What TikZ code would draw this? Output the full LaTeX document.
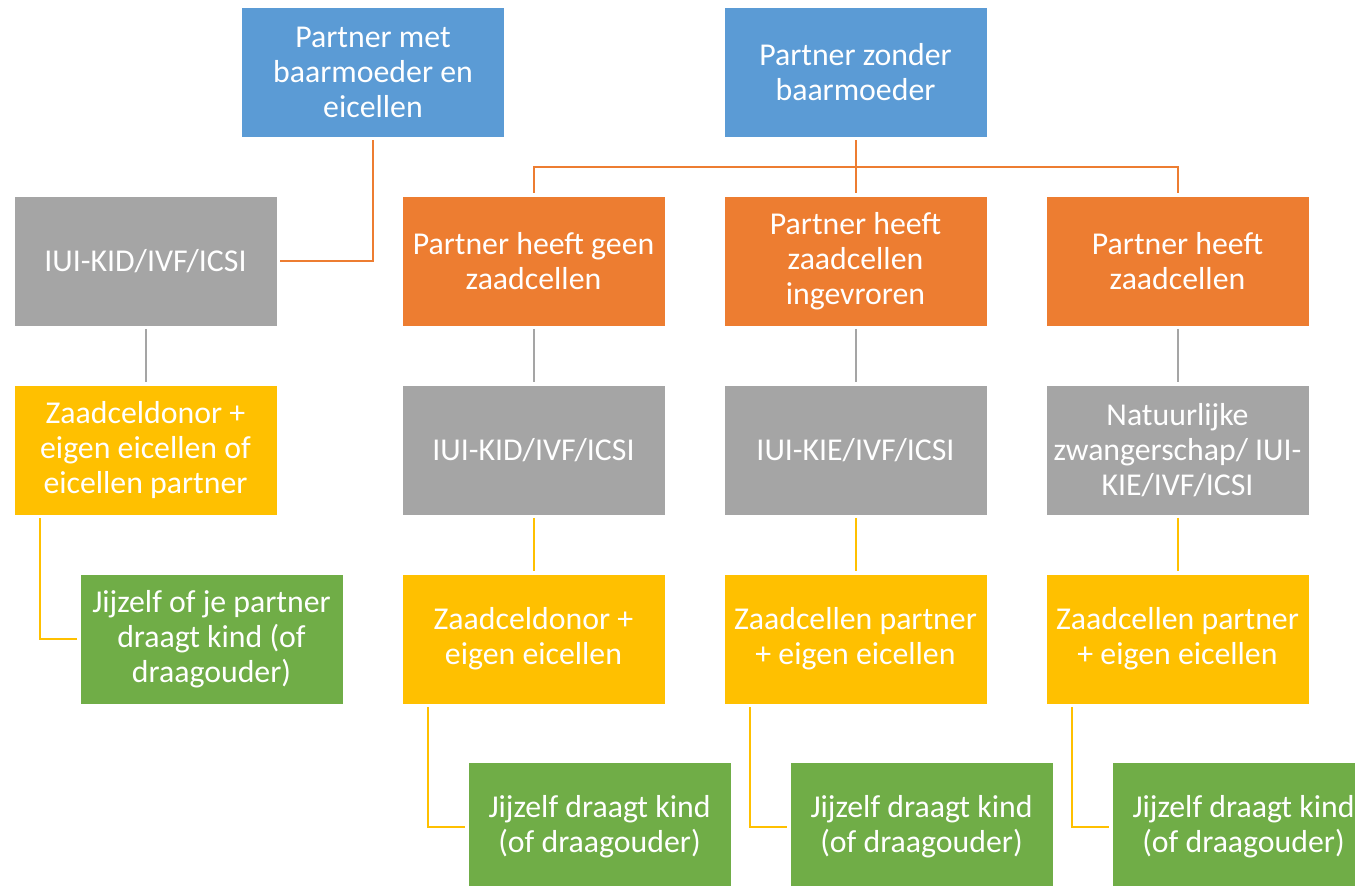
\documentclass[tikz,border=0pt]{standalone}
\usepackage{fontspec}
\setmainfont{Carlito}
\definecolor{cblue}{HTML}{5B9BD5}
\definecolor{corange}{HTML}{ED7D31}
\definecolor{cgray}{HTML}{A5A5A5}
\definecolor{cyellow}{HTML}{FFC000}
\definecolor{cgreen}{HTML}{70AD47}
\tikzset{
  box/.style={rectangle, minimum width=263pt, minimum height=130pt, inner sep=0pt,
    draw=white, line width=0.8pt, text=white, align=center,
    font=\fontsize{31.8}{35}\selectfont},
  bluebox/.style={box, fill=cblue},
  orangebox/.style={box, fill=corange},
  graybox/.style={box, fill=cgray},
  yellowbox/.style={box, fill=cyellow},
  greenbox/.style={box, fill=cgreen},
  conn/.style={line width=2pt, shorten <=2.5pt, shorten >=2.5pt},
  oconn/.style={conn, draw=corange},
  gconn/.style={conn, draw=cgray},
  yconn/.style={conn, draw=cyellow},
}
\begin{document}
\begin{tikzpicture}[x=1pt,y=-1pt]
\useasboundingbox (0,0) rectangle (1355,886);
\clip (0,0) rectangle (1355,886);
% row 1
\node[bluebox] (B1) at (373,72.5) {Partner met\\baarmoeder en\\eicellen};
\node[bluebox] (B2) at (855.5,72.5) {Partner zonder\\baarmoeder};
% row 2
\node[graybox] (G0) at (145.5,261) {IUI-KID/IVF/ICSI};
\node[orangebox] (O1) at (533.5,261) {Partner heeft geen\\zaadcellen};
\node[orangebox] (O2) at (855.5,261) {Partner heeft\\zaadcellen\\ingevroren};
\node[orangebox] (O3) at (1177.5,261) {Partner heeft\\zaadcellen};
% row 3
\node[yellowbox] (Y0) at (145.5,450) {Zaadceldonor +\\eigen eicellen of\\eicellen partner};
\node[graybox] (G1) at (533.5,450) {IUI-KID/IVF/ICSI};
\node[graybox] (G2) at (855.5,450) {IUI-KIE/IVF/ICSI};
\node[graybox] (G3) at (1177.5,450) {Natuurlijke\\zwangerschap/ IUI-\\KIE/IVF/ICSI};
% row 4
\node[greenbox] (R0) at (211.5,639) {Jijzelf of je partner\\draagt kind (of\\draagouder)};
\node[yellowbox] (Y1) at (533.5,639) {Zaadceldonor +\\eigen eicellen};
\node[yellowbox] (Y2) at (855.5,639) {Zaadcellen partner\\+ eigen eicellen};
\node[yellowbox] (Y3) at (1177.5,639) {Zaadcellen partner\\+ eigen eicellen};
% row 5
\node[greenbox] (R1) at (599.5,827) {Jijzelf draagt kind\\(of draagouder)};
\node[greenbox] (R2) at (921.5,827) {Jijzelf draagt kind\\(of draagouder)};
\node[greenbox] (R3) at (1243.5,827) {Jijzelf draagt kind\\(of draagouder)};
% connectors
\coordinate (bus) at (855.5,166.5);
\draw[oconn] (B1.south) |- (G0.east);
\draw[oconn] (B2.south) -- (O2.north);
\draw[oconn, shorten <=0pt] (bus) -| (O1.north);
\draw[oconn, shorten <=0pt] (bus) -| (O3.north);
\draw[gconn] (G0.south) -- (Y0.north);
\draw[gconn] (O1.south) -- (G1.north);
\draw[gconn] (O2.south) -- (G2.north);
\draw[gconn] (O3.south) -- (G3.north);
\draw[yconn] (G1.south) -- (Y1.north);
\draw[yconn] (G2.south) -- (Y2.north);
\draw[yconn] (G3.south) -- (Y3.north);
\draw[yconn] ([xshift=-105.5pt]Y0.south) |- (R0.west);
\draw[yconn] ([xshift=-105.5pt]Y1.south) |- (R1.west);
\draw[yconn] ([xshift=-105.5pt]Y2.south) |- (R2.west);
\draw[yconn] ([xshift=-105.5pt]Y3.south) |- (R3.west);
\end{tikzpicture}
\end{document}
